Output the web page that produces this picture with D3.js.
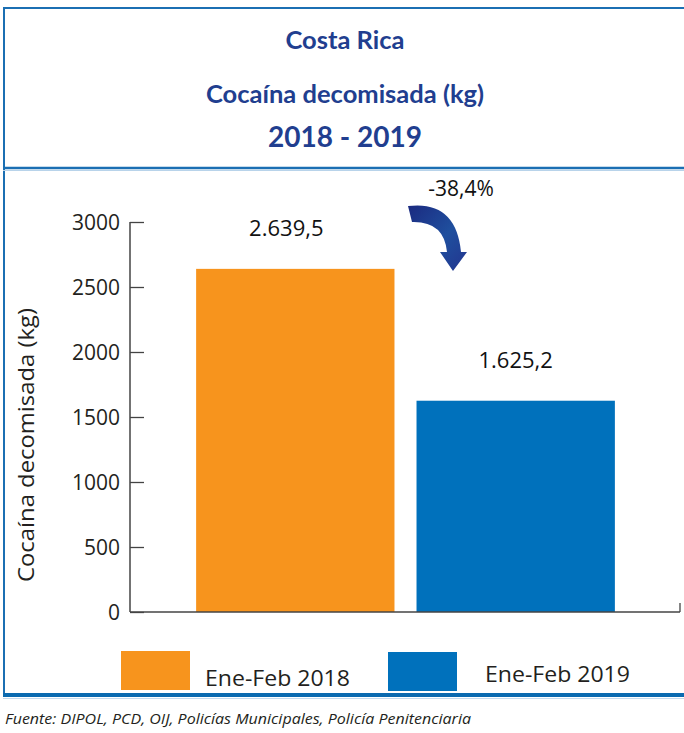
<!DOCTYPE html>
<html>
<head>
<meta charset="utf-8">
<script src="https://cdn.jsdelivr.net/npm/d3@7"></script>
<style>
  body { margin: 0; background: #fff; }
  svg { display: block; }
</style>
</head>
<body>
<svg width="684" height="733"></svg>
<script>
const categories = ['Ene-Feb 2018', 'Ene-Feb 2019'];
const values = [2639.5, 1625.2];
const valueLabels = ['2.639,5', '1.625,2'];
const colors = ['#F7941D', '#0071BC'];
const yTicks = [0, 500, 1000, 1500, 2000, 2500, 3000];
const titleLines = ['Costa Rica', 'Cocaína decomisada (kg)', '2018 - 2019'];
const changeLabel = '-38,4%';
const source = 'Fuente: DIPOL, PCD, OIJ, Policías Municipales, Policía Penitenciaria';

const svg = d3.select('svg');
const frameBlue = '#1B6FB3';
const titleBlue = '#213E8F';

// frame
svg.append('line')
  .attr('x1', 4).attr('x2', 4).attr('y1', 7).attr('y2', 697)
  .style('stroke', frameBlue).style('stroke-width', 2);
svg.append('line')
  .attr('x1', 3).attr('x2', 684).attr('y1', 8).attr('y2', 8)
  .style('stroke', frameBlue).style('stroke-width', 2);
svg.append('line')
  .attr('x1', 3).attr('x2', 684).attr('y1', 168).attr('y2', 168)
  .style('stroke', frameBlue).style('stroke-width', 2.5);
svg.append('line')
  .attr('x1', 3).attr('x2', 684).attr('y1', 170.5).attr('y2', 170.5)
  .style('stroke', '#b8d3ea').style('stroke-width', 1);
svg.append('line')
  .attr('x1', 3).attr('x2', 684).attr('y1', 695).attr('y2', 695)
  .style('stroke', '#0A6AB0').style('stroke-width', 4);
svg.append('line')
  .attr('x1', 3).attr('x2', 684).attr('y1', 698.5).attr('y2', 698.5)
  .style('stroke', '#c4dbee').style('stroke-width', 1);

// titles
const titleY = [49, 103, 147];
const titleSize = [25.5, 25.5, 28];
titleLines.forEach((t, i) => {
  svg.append('text')
    .attr('x', 345)
    .attr('y', titleY[i])
    .attr('text-anchor', 'middle')
    .style('font-family', 'Lato, "Open Sans", sans-serif')
    .style('font-weight', 'bold')
    .style('font-size', titleSize[i] + 'px')
    .attr('fill', titleBlue)
    .text(t);
});

// scales
const y = d3.scaleLinear().domain([0, 3000]).range([612, 222]);
const x = d3.scaleBand().domain(categories).range([130, 681])
  .paddingInner(0.1).paddingOuter(0.3);

// bars
svg.selectAll('.bar')
  .data(values)
  .enter()
  .append('rect')
  .attr('class', 'bar')
  .attr('x', (d, i) => x(categories[i]))
  .attr('y', d => y(d))
  .attr('width', x.bandwidth())
  .attr('height', d => y(0) - y(d))
  .style('fill', (d, i) => colors[i]);

svg.selectAll('.vlabel')
  .data(values)
  .enter()
  .append('text')
  .attr('class', 'vlabel')
  .attr('x', (d, i) => x(categories[i]) + x.bandwidth() / 2 - (i === 0 ? 9 : 0))
  .attr('y', d => y(d) - 33)
  .attr('text-anchor', 'middle')
  .style('font-family', '"Open Sans", sans-serif')
  .style('font-size', '22px')
  .attr('fill', '#111')
  .text((d, i) => valueLabels[i]);

// y axis
const yAxis = svg.append('g')
  .attr('transform', 'translate(130,0)')
  .call(d3.axisRight(y).tickValues(yTicks).tickSize(14).tickFormat(''));
yAxis.select('.domain').remove();
yAxis.selectAll('.tick line').style('stroke', '#444').style('stroke-width', 1.3);
svg.append('line')
  .attr('x1', 130).attr('x2', 130).attr('y1', y(3000)).attr('y2', y(0))
  .style('stroke', '#444').style('stroke-width', 1.5);

svg.selectAll('.ytl')
  .data(yTicks)
  .enter()
  .append('text')
  .attr('class', 'ytl')
  .attr('x', 120)
  .attr('y', d => y(d) + 8)
  .attr('text-anchor', 'end')
  .style('font-family', '"Open Sans", sans-serif')
  .style('font-size', '21px')
  .attr('fill', '#231F20')
  .text(d => d);

// x axis
svg.append('line')
  .attr('x1', 130).attr('x2', 680).attr('y1', y(0)).attr('y2', y(0))
  .style('stroke', '#444').style('stroke-width', 1.5);
svg.append('line')
  .attr('x1', 680).attr('x2', 680).attr('y1', y(0)).attr('y2', y(0) - 9)
  .style('stroke', '#444').style('stroke-width', 1.3);

// y axis title
svg.append('text')
  .attr('transform', 'translate(34,445) rotate(-90)')
  .attr('text-anchor', 'middle')
  .style('font-family', '"Open Sans", sans-serif')
  .style('font-size', '21px')
  .attr('fill', '#231F20')
  .attr('textLength', 274)
  .attr('lengthAdjust', 'spacingAndGlyphs')
  .text('Cocaína decomisada (kg)');

// change arrow
const grad = svg.append('defs').append('linearGradient')
  .attr('id', 'arrowGrad')
  .attr('x1', '0%').attr('y1', '0%').attr('x2', '100%').attr('y2', '100%');
grad.append('stop').attr('offset', '0%').attr('stop-color', '#1B2A80');
grad.append('stop').attr('offset', '55%').attr('stop-color', '#1F4F9E');
grad.append('stop').attr('offset', '100%').attr('stop-color', '#23358F');

svg.append('path')
  .attr('d', 'M408,206 Q456,200 461,252 L467,252 L453,271 L440,252 L447,252 Q444,221 412,222 Z')
  .style('fill', 'url(#arrowGrad)');

svg.append('text')
  .attr('x', 461)
  .attr('y', 196)
  .attr('text-anchor', 'middle')
  .style('font-family', '"Open Sans", sans-serif')
  .style('font-size', '21px')
  .attr('fill', '#111')
  .text(changeLabel);

// legend
const legX = [121, 388];
const legY = [651, 652];
const legTextX = [205, 485];
const legTextY = [686, 682];
categories.forEach((c, i) => {
  svg.append('rect')
    .attr('x', legX[i]).attr('y', legY[i])
    .attr('width', 69).attr('height', 39)
    .style('fill', colors[i]);
  svg.append('text')
    .attr('x', legTextX[i]).attr('y', legTextY[i])
    .style('font-family', '"Open Sans", sans-serif')
    .style('font-size', '22px')
    .attr('fill', '#231F20')
    .attr('textLength', 145)
    .attr('lengthAdjust', 'spacingAndGlyphs')
    .text(c);
});

// source
svg.append('text')
  .attr('x', 5).attr('y', 724)
  .style('font-family', '"Open Sans", sans-serif')
  .style('font-style', 'italic')
  .style('font-size', '14px')
  .attr('fill', '#231F20')
  .attr('textLength', 466)
  .attr('lengthAdjust', 'spacingAndGlyphs')
  .text(source);
</script>
</body>
</html>
